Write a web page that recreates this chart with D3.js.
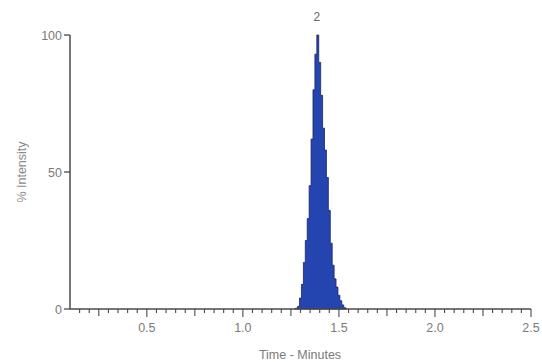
<!DOCTYPE html>
<html>
<head>
<meta charset="utf-8">
<script src="https://cdn.jsdelivr.net/npm/d3@7"></script>
<style>
  html, body { margin: 0; padding: 0; background: #fff; }
  svg { display: block; }
  text { font-family: "Liberation Sans", Arial, sans-serif; }
</style>
</head>
<body>
<svg id="chart" width="542" height="362"></svg>
<script>
// ---- data ----
const times = [1.27, 1.28, 1.29, 1.30, 1.31, 1.32, 1.33, 1.34, 1.35, 1.36, 1.37, 1.38, 1.39,
               1.40, 1.41, 1.42, 1.43, 1.44, 1.45, 1.46, 1.47, 1.48, 1.49, 1.50, 1.51, 1.52, 1.53, 1.54];
const intensity = [0, 0.3, 1, 4, 9, 17, 25, 33, 45, 62, 80, 93, 100,
                   90, 78, 66, 58, 48, 36, 24, 16, 11, 8, 5, 3, 1.5, 0.5, 0];
const xTickLabels = [0.5, 1.0, 1.5, 2.0, 2.5];
const yTickLabels = [0, 50, 100];
const peakLabel = "2";
const peakTime = 1.39;
const xTitle = "Time - Minutes";
const yTitle = "% Intensity";

// ---- layout ----
const svg = d3.select("#chart");
const x = d3.scaleLinear().domain([0.1, 2.5]).range([70, 531]);
const y = d3.scaleLinear().domain([0, 100]).range([309, 35]);

const points = times.map((t, i) => [t, intensity[i]]);

// peak area
const area = d3.area()
  .x(d => x(d[0]))
  .y0(y(0))
  .y1(d => y(d[1]))
  .curve(d3.curveStep);
svg.append("path")
  .datum(points)
  .attr("d", area)
  .attr("fill", "#2445b0")
  .attr("stroke", "#1b2560")
  .attr("stroke-width", 0.8);

const axisColor = "#4a4a4a";
const textColor = "#7a7a7a";

// x axis line
svg.append("line")
  .attr("x1", x(0.1)).attr("x2", x(2.5))
  .attr("y1", y(0)).attr("y2", y(0))
  .attr("stroke", axisColor).attr("stroke-width", 1.5);

// x ticks: minor every 0.05
const minor = d3.range(3, 51).map(i => +(i * 0.05).toFixed(2));
svg.append("g").selectAll("line")
  .data(minor)
  .join("line")
  .attr("x1", d => x(d)).attr("x2", d => x(d))
  .attr("y1", y(0))
  .attr("y2", d => {
    const r = Math.round(d * 100);
    if (r % 50 === 0) return y(0) + 8;
    if (r % 25 === 0) return y(0) + 7;
    return y(0) + 4;
  })
  .attr("stroke", axisColor).attr("stroke-width", 1.1);

svg.append("g").selectAll("text")
  .data(xTickLabels)
  .join("text")
  .attr("x", d => x(d))
  .attr("y", 332)
  .attr("text-anchor", "middle")
  .attr("font-size", 12.5)
  .attr("fill", textColor)
  .text(d => d.toFixed(1));

// y axis
svg.append("line")
  .attr("x1", x(0.1)).attr("x2", x(0.1))
  .attr("y1", y(100)).attr("y2", y(0))
  .attr("stroke", axisColor).attr("stroke-width", 1.5);

svg.append("g").selectAll("line")
  .data(yTickLabels)
  .join("line")
  .attr("x1", x(0.1) - 6).attr("x2", x(0.1))
  .attr("y1", d => y(d)).attr("y2", d => y(d))
  .attr("stroke", axisColor).attr("stroke-width", 1.3);

svg.append("g").selectAll("text")
  .data(yTickLabels)
  .join("text")
  .attr("x", x(0.1) - 8)
  .attr("y", d => y(d) + 4.5)
  .attr("text-anchor", "end")
  .attr("font-size", 12.5)
  .attr("fill", textColor)
  .text(d => d);

// titles
svg.append("text")
  .attr("x", 300).attr("y", 359)
  .attr("text-anchor", "middle")
  .attr("font-size", 12.5)
  .attr("fill", textColor)
  .text(xTitle);

svg.append("text")
  .attr("transform", `translate(26,172) rotate(-90)`)
  .attr("text-anchor", "middle")
  .attr("font-size", 12.5)
  .attr("fill", "#8a8a8a")
  .text(yTitle);

// peak label
svg.append("text")
  .attr("x", x(peakTime) - 1)
  .attr("y", 21)
  .attr("text-anchor", "middle")
  .attr("font-size", 12)
  .attr("fill", "#666")
  .text(peakLabel);
</script>
</body>
</html>
